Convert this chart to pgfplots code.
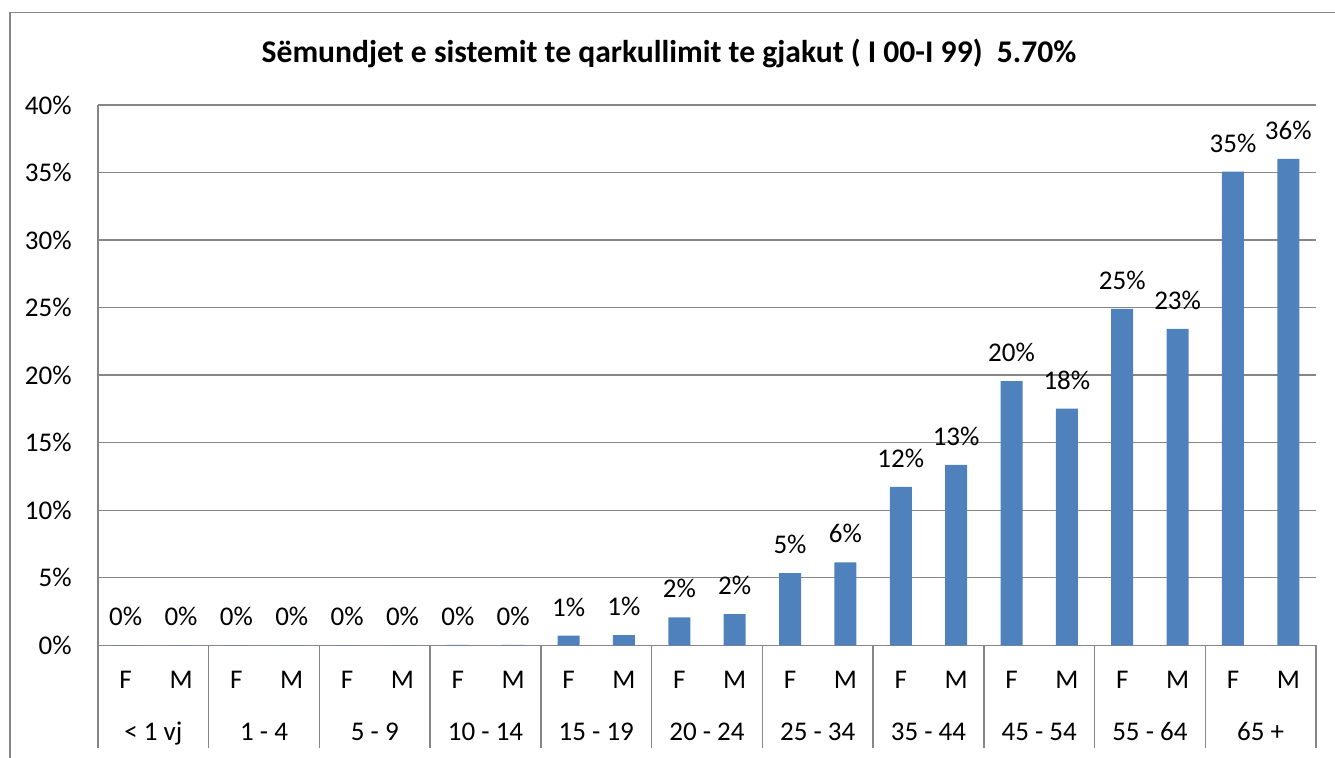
\documentclass[border=0pt]{standalone}
\usepackage{fontspec}
\setmainfont{Carlito}
\usepackage{pgfplots}
\pgfplotsset{compat=1.18}
\definecolor{barblue}{HTML}{4F81BD}
\definecolor{linegray}{HTML}{868686}
\newcommand{\lblfont}{\fontsize{13.5}{16}\selectfont}

\begin{document}
\begin{tikzpicture}
\path[use as bounding box] (-49pt,-56.35pt) rectangle (618.5pt,322.65pt);
% chart area border (only left and top are visible)
\draw[linegray, line width=0.7pt] (-44pt,-56.35pt) -- (-44pt,316.3pt) -- (618.5pt,316.3pt);
\node[font=\fontsize{15.8}{19}\selectfont\bfseries, anchor=base] at (285.5pt,291.15pt)
  {Sëmundjet e sistemit te qarkullimit te gjakut ( I 00-I 99)\ \ 5.70\%};
\begin{axis}[
  scale only axis, width=609pt, height=270.15pt,
  xmin=-0.5, xmax=21.5, ymin=0, ymax=40,
  axis x line=bottom, axis y line=left,
  axis line style={linegray, line width=0.7pt, -},
  ymajorgrids, grid style={linegray, line width=0.7pt},
  ytick={0,5,...,40},
  yticklabel={\pgfmathprintnumber{\tick}\%},
  yticklabel style={anchor=east, inner sep=0pt, xshift=-13pt},
  xtick={0,...,21},
  xticklabels={F,M,F,M,F,M,F,M,F,M,F,M,F,M,F,M,F,M,F,M,F,M},
  xticklabel style={anchor=base, inner sep=0pt, yshift=-21.5pt},
  tick label style={font=\lblfont},
  /pgf/number format/assume math mode=true,
  major tick length=0pt,
  tick style={linegray, line width=0.7pt},
  extra x ticks={-0.5,1.5,3.5,5.5,7.5,9.5,11.5,13.5,15.5,17.5,19.5,21.5},
  extra x tick labels={},
  extra x tick style={major tick length=51.5pt, tick align=outside, grid=none},
  ybar, bar width=11pt,
  nodes near coords={\pgfmathprintnumber[fixed,precision=0]{\pgfplotspointmeta}\%},
  every node near coord/.append style={anchor=south, inner sep=0pt, yshift=9.5pt, font=\lblfont, text=black},
  clip=false,
]
% share of cases per age group and sex (%)
\addplot[fill=barblue, draw=none] coordinates {
  (0,0.02) (1,0.02) (2,0.02) (3,0.02) (4,0.02) (5,0.02) (6,0.03) (7,0.03)
  (8,0.71) (9,0.76) (10,2.07) (11,2.31) (12,5.35) (13,6.13)
  (14,11.73) (15,13.36) (16,19.56) (17,17.52) (18,24.9) (19,23.43)
  (20,35.06) (21,36.02)
};
% age groups (second label row)
\node[anchor=base, font=\lblfont] at (axis cs:0.5,0)  [yshift=-47.5pt] {< 1 vj};
\node[anchor=base, font=\lblfont] at (axis cs:2.5,0)  [yshift=-47.5pt] {1 - 4};
\node[anchor=base, font=\lblfont] at (axis cs:4.5,0)  [yshift=-47.5pt] {5 - 9};
\node[anchor=base, font=\lblfont] at (axis cs:6.5,0)  [yshift=-47.5pt] {10 - 14};
\node[anchor=base, font=\lblfont] at (axis cs:8.5,0)  [yshift=-47.5pt] {15 - 19};
\node[anchor=base, font=\lblfont] at (axis cs:10.5,0) [yshift=-47.5pt] {20 - 24};
\node[anchor=base, font=\lblfont] at (axis cs:12.5,0) [yshift=-47.5pt] {25 - 34};
\node[anchor=base, font=\lblfont] at (axis cs:14.5,0) [yshift=-47.5pt] {35 - 44};
\node[anchor=base, font=\lblfont] at (axis cs:16.5,0) [yshift=-47.5pt] {45 - 54};
\node[anchor=base, font=\lblfont] at (axis cs:18.5,0) [yshift=-47.5pt] {55 - 64};
\node[anchor=base, font=\lblfont] at (axis cs:20.5,0) [yshift=-47.5pt] {65 +};
\end{axis}
\end{tikzpicture}
\end{document}
